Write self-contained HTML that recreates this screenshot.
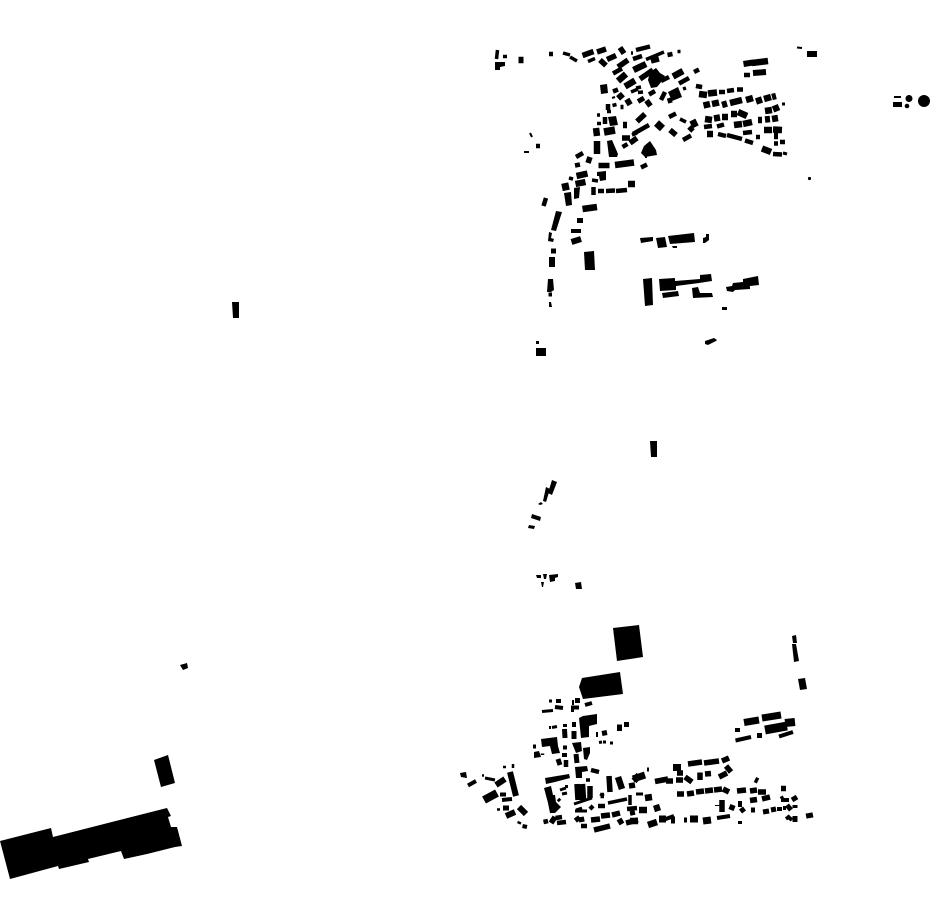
<!DOCTYPE html>
<html>
<head>
<meta charset="utf-8">
<title>Figure-ground map</title>
<style>
html,body{margin:0;padding:0;background:#fff}
svg{display:block}
</style>
</head>
<body>
<svg xmlns="http://www.w3.org/2000/svg" width="930" height="924" viewBox="0 0 930 924">
<rect width="930" height="924" fill="#fff"/>
<g fill="#000">
<!-- south-west large -->
<polygon points="0,841 51,828 53,837 167,808 171,816 168,817 171,827 177,827 182,846 175,847 147,854 124,859 121,851 88,859 89,862 59,869 58,866 10,879"/>
<polygon points="154,760 168,755 175,783 161,787"/>
<polygon points="180,665 187,663 188,668 183,670"/>
<polygon points="232,302 239,302 239,318 233,318"/>
<!-- big south -->
<polygon points="613,628 639,625 643,657 617,661"/>
<polygon points="582,678 620,672 623,694 583,699 579,687"/>
<polygon points="792,636 796,635 797,643 793,643"/>
<polygon points="792,644 796,644 799,661 794,662"/>
<polygon points="798,679 805,678 807,689 800,690"/>
<!-- mid -->
<polygon points="650,441 657,441 657,457 651,457"/>
<polygon points="552,480 557,482 552,495 548,493"/>
<polygon points="546,487 550,489 546,502 543,501"/>
<polygon points="531,518 532,514 541,517 540,521"/>
<polygon points="528,528 529,525 535,526 534,529"/>
<polygon points="538,504 541,502 543,504 540,505"/>
<polygon points="575,583 581,582 582,589 576,589"/>
<polygon points="536,575 541,575 541,578 537,578"/>
<polygon points="543,574 547,574 546,579 544,579"/>
<polygon points="549,575 558,574 558,577 555,578 555,581 550,582"/>
<polygon points="541,582 544,582 543,587 542,587"/>
<rect x="536" y="348" width="10" height="8"/>
<rect x="536" y="341" width="3" height="3"/>
<!-- campus -->
<polygon points="643,279 652,278 653,305 645,306"/>
<polygon points="659,279 675,278 675,281 700,279 700,275 711,274 712,281 699,283 676,286 676,290 660,291"/>
<polygon points="662,293 678,291 679,296 663,298"/>
<polygon points="692,288 698,287 700,293 712,293 713,297 693,298"/>
<polygon points="584,252 594,251 595,270 585,270"/>
<polygon points="640,238 653,237 653,241 641,243"/>
<polygon points="668,236 694,233 695,242 670,244"/>
<polygon points="656,238 665,237 667,247 658,248"/>
<polygon points="672,246 677,246 677,248 673,248"/>
<polygon points="703,238 706,237 706,234 709,234 709,240 705,243 703,243"/>
<polygon points="743,279 758,276 759,285 750,286 750,289 735,290 733,292 727,291 726,287 732,286 733,283 743,282"/>
<polygon points="722,307 727,307 727,310 722,310"/>
<polygon points="705,341 714,338 717,340 716,341 708,345 705,344"/>
<!-- west arc -->
<polygon points="556,211 562,212 556,231 551,230"/>
<polygon points="549,232 552,233 551,238 554,239 553,242 548,241"/>
<polygon points="564,193 571,192 572,205 566,206"/>
<polygon points="574,188 580,187 579,198 574,199"/>
<polygon points="547,292 548,279 553,279 554,290 551,292"/>
<polygon points="549,302 551,302 552,307 549,307"/>
<!-- north large -->
<polygon points="668,92 678,87 682,97 672,101"/>
<polygon points="600,85 607,84 608,93 601,94"/>
<polygon points="650,72 656,68 660,73 665,76 662,81 657,87 651,88 648,80"/>
<polygon points="607,141 612,140 618,154 617,157 609,157"/>
<polygon points="608,117 616,116 618,125 610,126"/>
<polygon points="644,146 650,141 656,150 657,155 645,157 641,153"/>
<polygon points="495,62 505,62 505,66 500,67 500,70 495,70"/>
<polygon points="597,172 606,171 606,180 600,181 599,176 597,176"/>
<!-- south large -->
<polygon points="583,716 597,714 597,724 589,726 589,737 581,738 579,718"/>
<polygon points="541,739 557,737 558,746 560,753 552,754 550,746 542,747"/>
<polygon points="572,743 581,742 582,751 576,753"/>
<polygon points="583,748 590,747 590,753 587,760 584,759"/>
<polygon points="575,767 587,766 588,771 582,772 582,778 576,778"/>
<polygon points="545,778 569,774 570,778 555,782 546,784"/>
<polygon points="544,788 551,786 553,795 555,795 556,802 561,807 555,813 550,813 548,803"/>
<polygon points="534,752 539,751 541,757 534,758"/>
<polygon points="460,773 466,772 467,778 461,777"/>
<circle cx="924" cy="101" r="6"/>
<circle cx="909" cy="98.500" r="3.500"/>
<circle cx="907" cy="106" r="2.300"/>
<circle cx="809.500" cy="178.500" r="1.600"/>
<rect x="893" y="102" width="9" height="5"/>
<rect x="894" y="96" width="7" height="2"/>
</g>
<g fill="none" stroke="#000">
<!-- north -->
<path stroke-width="2" d="M797 47.500L802 48M612 98L615 97M530 133L532 137M569 178L573 179M524 152L529 152M645 157L647 157"/>
<path stroke-width="3.500" d="M497.500 50L496.500 59M503 56.500L507 56.500M563 53L570 55M570 57L577 61M588 61.500L595 58.500M646 59.500L664 52M631 53L633 53M677.500 51.500L680.500 51.500M696 86L702 87.500M631 92L638 89M636 88L641 87M638 92.500L643 92M683 89L686 88M597 115L600 115M597 123.500L601 123.500M607 111.500L611 111.500M612.500 105.500L616.500 104.500M632 135L637 133M592 180L598 181M569 178L573 179M680 119L686 122"/>
<path stroke-width="4.500" d="M549 54H553M536 146H540M667.500 55L672.500 54M633 59L642 56M636 50L650 46.500M613 73.500L622 68.500M661 81L669 77M694 72L699 69.500M679 83.500L689 78M613 91.500L618 89.500M649 94.500L655 91M661 100L665 92M669 98L670.500 103M608 104V110M620.500 107L623.500 107M605 117V124M669 117L676 113.500M633 134L649 125M683 140L691 135.500M622.500 147L627.500 144M576 157L583 153M575 165.500L580 164.500M641 167.500L647 164.500M593.500 187V195M598 191L604 191M606 191L615 190.500M616 191L627 190M543.500 206L546 198"/>
<path stroke-width="5.500" d="M582.500 55.500L593.500 51.500M597 52L606 49M600 60L606 65.500M607 59.500L616 55.500M620 47.500L624 53.500M651 61L659 59M618 67L628 60M640 79L653 70M646.500 100.500L650.500 106M637 121.500L645 114M670 130L676 135M622 138L630 138M630 143L637 138M590 157L588 163M598.500 165.500L609.500 165.500"/>
<path stroke-width="6.500" d="M633.500 70L646 64M618 81L626 74M625 86.500L635 80.500M673 76.500L683 71M618.500 94L622.500 98.500M626 103.500L631 100.500M623 125L627 125M596 128L597 136M597 141V154M615 165L634 162.500M576.500 176L587.500 173.500M575.500 184L585.500 182M628 184H635M582.500 209L597 207M518.500 60L523.500 60"/>
<path stroke-width="7.500" d="M604 132L615 130M656.500 123L662.500 128.500M691 125L697 122M562 187.500L569 186"/>
<path stroke-width="5" d="M638 101.500L644 98M689 127L693 131"/>
<!-- arc -->
<path stroke-width="5" d="M577 220.500H583M551 251H556"/>
<path stroke-width="4" d="M571 231H581M549 259H555M548.500 294.500H552"/>
<path stroke-width="6" d="M571.500 242L581 239M549 264H555"/>
<!-- north-east -->
<path stroke-width="6" d="M743.500 64L753 62.500M807 54L817 54M753 73L766 72"/>
<path stroke-width="6.500" d="M752 63L768 61M699 94L707 95M708 93.500L717 92.500M703.500 105.500L710 104M712 104L719 102.500M722 105L727 103.500M730 103L742 100M746 100L753 98M756 101.500L762 99.500M764 99L771 97M772 97L776 96M773 109.500L779 107M765 111L772 110M705 119L712 120M714 118.500L720 117.500M722 117H728M731 114L737 114M738 112L747 116M758 120H762M765 119.500L770 119M772 119L778 118M734 125L742 124M743 124L752 122M707 134L713 134M764 130L772 130M773 129.500L782 130M774 136H778M762 148.500L771 152"/>
<path stroke-width="4.500" d="M744 75L750 75M696 86L702 87M719 92L725 92M727 91L734 90M737 89.500L743 89.500M704 127L712 126M717 126.500L724 124.500M718 134L726 136M727 135L742 139M743 133L752 132M745 140.500L753 143M756 137H760M773 154L782 154.500M774 143.500H778M780 142H785"/>
<path stroke-width="3" d="M782 104L785 104M783 153L787 154"/>
<!-- south upper -->
<path stroke-width="3" d="M549 701L552 701M549 727.500H551M552 727.500L557 726.500M563 725.500H567M542 711.500L553 710.500M571 710.500H574M599 742.500L602 742M603 742H606M610 743H613"/>
<path stroke-width="4" d="M556 701L561 701M555 707L563 708M571 707.500L579 707.500M585 705L592 703M533 746.500H536M563 747.500H567M562 755H567"/>
<path stroke-width="5" d="M572 702.500H574M577.500 698L577.500 703M564.500 729L565 738M572 724.500L576 724.500M574 731V739M596 734.500H598M602 733.500L607 732.500M619.500 724.500V731M626.500 722V727M576 754L577 763M558 759L560 765"/>
<path stroke-width="4.500" d="M566 760V767M591 770L599 772"/>
<path stroke-width="3.500" d="M542.500 753.500V755M586 780H590"/>
<!-- far west -->
<path stroke-width="2.500" d="M482 775.500H484M503 767L506 767M513 764L513 768M497 809.500H500M517.500 822L521 823.500"/>
<path stroke-width="3" d="M485 778L495 780"/>
<path stroke-width="4" d="M468 785.500L476 781M502 800L512 799M500 794.500H506M522.500 826L527 827"/>
<path stroke-width="5" d="M503 808L509 808"/>
<path stroke-width="6" d="M496 785L505 779M510 772L516 796M506 816L515 812M519 807L526 814"/>
<path stroke-width="8" d="M484 800L497 793"/>
<!-- south centre -->
<path stroke-width="3" d="M560 790L566 788M562 794L567 793M574 804L592 798M576 810L582 808M575 811H587M600 794L604 796M636 794H643M565 786.500H568"/>
<path stroke-width="3.500" d="M608 803L627 799M630 795V805M558 799L560 801"/>
<path stroke-width="4.500" d="M543.500 822L548 821M557 823L566 822M555.500 818L562 817M590 806L593 809M598 806L605 806M630 813.500L635 812.500M581 826L587 826M627 809L637 808"/>
<path stroke-width="5.500" d="M551 823L555 817M577 784L578 800M590 786L590 798M576 817L579 821M581 817L582 822M591 820L600 819M601 816L610 815M594 830L610 826M612 815L620 813M619 819L622 824M626 823L638 820M600.500 795.500L604 795.500M609 776L610 792M629 786L635 785"/>
<path stroke-width="6.500" d="M582 784L583 800M618 777L622 789M634 781L639 775M639 810L647 810M645 798L652 797M654 809L660 807M630 821H638M648 825L657 822"/>
<!-- south east -->
<path stroke-width="7" d="M744 722.500L759 720M762 718L781 715"/>
<path stroke-width="9" d="M765 730L787 726"/>
<path stroke-width="8" d="M785 723L795 722"/>
<path stroke-width="4" d="M735 730H740M735.500 740.500L751 737M779 736.500L793 732M647 769.500H649"/>
<path stroke-width="5" d="M757 735.500H762"/>
<path stroke-width="7" d="M673 767.500H681M633 779L645 775"/>
<path stroke-width="5.500" d="M688 764L702 762M704 763L719 761M722 761L729 758M726 766L731 772M719 777L727 773M705 774L711 773.500M700 772.500V780M685 777L692 782M676 780L683 780M677 773L683 773M666 781L673 781M655 781.500L668 779M677 794L684 794M687 794L694 793M696 792L704 791M705 791L713 790M714 790L722 789M723 789L729 792M737 791L746 790M750 791L757 790M758 792L766 792M755 779.500L758 781M781 788.500L786 788.500M750 800.500L757 799.500M762 799L770 797M781 799.500L784 798M733 805L731 810M722 812L722 800"/>
<path stroke-width="4" d="M781 800L789 800M783 808L786 808M777 809H782"/>
<path stroke-width="6" d="M718 805L718 806M721 806H724"/>
<path stroke-width="5" d="M741 808L744 812M751 810L755 810M763 812L769 811M771 810L776 809M787 805L791 810M792 800L797 797M795 805V808M787 816L789 819M795 816V822"/>
<path stroke-width="6" d="M742 804H738"/>
<path stroke-width="7" d="M659 819H666M671 820H675M690 819H698M703 821L711 820M809 813L810 818"/>
<path stroke-width="4" d="M663 820L674 816M717 818L730 816"/>
<path stroke-width="5" d="M684 820H687"/>
<path stroke-width="4" d="M740 821V824M787 816L792 820"/>
</g>
</svg>
</body>
</html>
